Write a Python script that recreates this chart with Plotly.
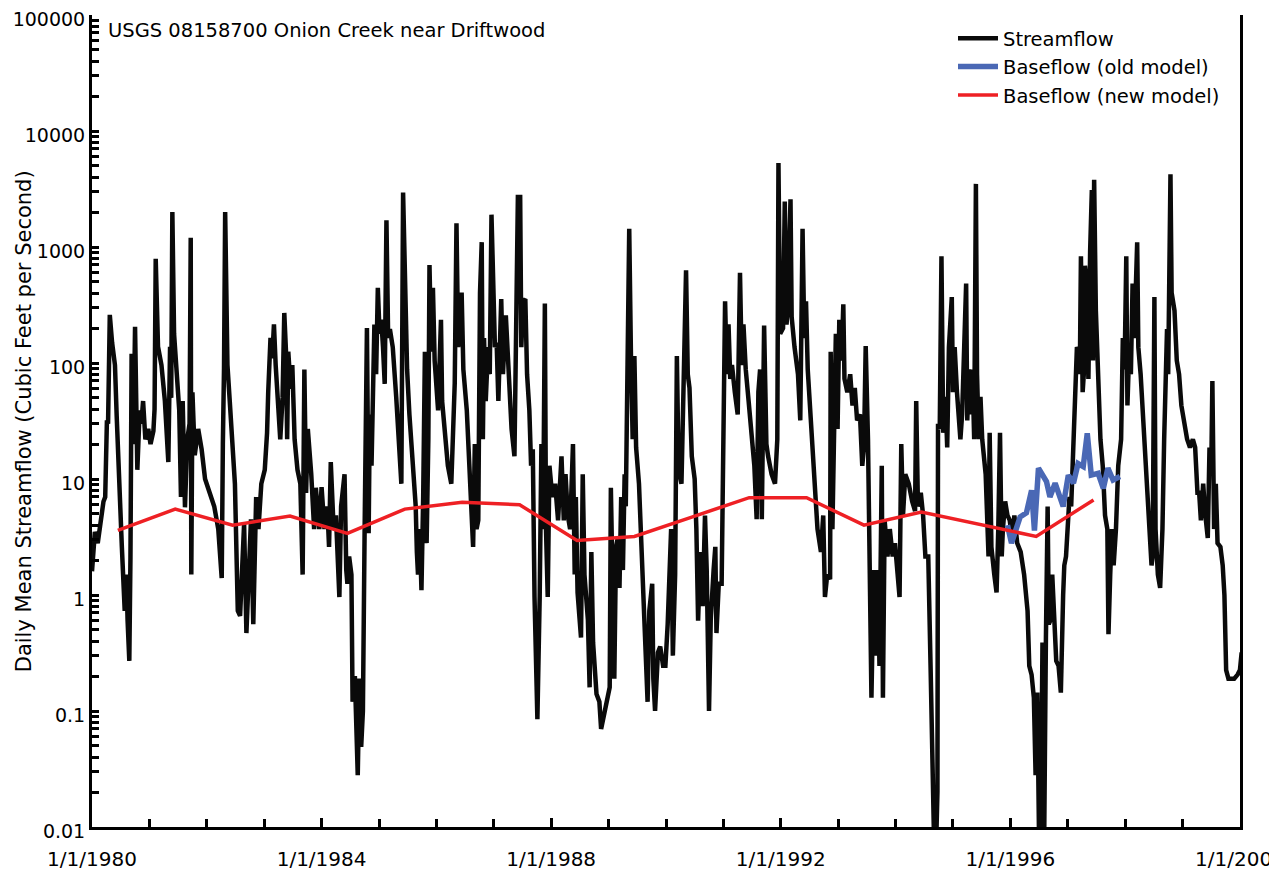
import pandas as pd
import plotly.graph_objects as go

# ---- Streamflow (decimal year, cfs) ----
flow_year = [
1980.00,1980.05,1980.10,1980.15,1980.20,1980.23,1980.26,1980.28,1980.31,1980.35,1980.40,1980.43,1980.46,1980.52,1980.57,1980.60,1980.62,1980.65,1980.67,1980.69,
1980.71,1980.73,1980.75,1980.77,1980.79,1980.83,1980.86,1980.89,1980.93,1980.98,1981.02,1981.07,1981.09,1981.11,1981.13,1981.15,1981.21,1981.27,1981.33,1981.36,
1981.38,1981.40,1981.43,1981.47,1981.52,1981.55,1981.58,1981.62,1981.66,1981.70,1981.72,1981.73,1981.75,1981.79,1981.85,1981.91,1981.97,1982.05,1982.13,1982.20,
1982.24,1982.26,1982.28,1982.30,1982.32,1982.34,1982.36,1982.40,1982.45,1982.49,1982.52,1982.54,1982.58,1982.62,1982.65,1982.69,1982.73,1982.77,1982.81,1982.86,
1982.90,1982.95,1983.01,1983.05,1983.07,1983.11,1983.14,1983.17,1983.20,1983.24,1983.28,1983.32,1983.35,1983.38,1983.40,1983.42,1983.46,1983.49,1983.53,1983.58,
1983.63,1983.67,1983.70,1983.73,1983.76,1983.82,1983.87,1983.90,1983.96,1984.00,1984.05,1984.10,1984.13,1984.16,1984.21,1984.25,1984.31,1984.34,1984.40,1984.43,
1984.45,1984.48,1984.52,1984.54,1984.58,1984.63,1984.66,1984.69,1984.72,1984.75,1984.77,1984.79,1984.82,1984.84,1984.87,1984.90,1984.92,1984.95,1984.98,1985.01,
1985.04,1985.07,1985.10,1985.13,1985.16,1985.19,1985.24,1985.30,1985.35,1985.39,1985.42,1985.46,1985.49,1985.53,1985.61,1985.64,1985.66,1985.68,1985.71,1985.74,
1985.77,1985.80,1985.83,1985.86,1985.88,1985.91,1985.94,1985.97,1986.03,1986.08,1986.10,1986.15,1986.20,1986.26,1986.29,1986.32,1986.35,1986.38,1986.44,1986.47,
1986.53,1986.58,1986.61,1986.64,1986.67,1986.70,1986.73,1986.76,1986.79,1986.81,1986.83,1986.86,1986.90,1986.93,1986.96,1986.99,1987.02,1987.05,1987.08,1987.13,
1987.16,1987.21,1987.25,1987.31,1987.36,1987.39,1987.42,1987.46,1987.48,1987.51,1987.55,1987.58,1987.62,1987.65,1987.68,1987.71,1987.76,1987.80,1987.83,1987.86,
1987.89,1987.91,1987.94,1987.97,1988.02,1988.07,1988.12,1988.18,1988.22,1988.25,1988.29,1988.33,1988.38,1988.41,1988.43,1988.46,1988.52,1988.55,1988.58,1988.64,
1988.67,1988.70,1988.73,1988.79,1988.84,1988.87,1988.93,1989.02,1989.04,1989.07,1989.10,1989.13,1989.16,1989.19,1989.22,1989.25,1989.28,1989.30,1989.33,1989.36,
1989.39,1989.42,1989.45,1989.48,1989.53,1989.59,1989.65,1989.68,1989.71,1989.76,1989.78,1989.81,1989.86,1989.90,1989.95,1989.99,1990.03,1990.06,1990.09,1990.12,
1990.16,1990.19,1990.22,1990.27,1990.31,1990.35,1990.38,1990.41,1990.45,1990.50,1990.53,1990.56,1990.60,1990.64,1990.68,1990.71,1990.75,1990.78,1990.83,1990.86,
1990.88,1990.92,1990.97,1991.00,1991.03,1991.06,1991.09,1991.12,1991.15,1991.20,1991.25,1991.29,1991.32,1991.35,1991.39,1991.44,1991.49,1991.54,1991.58,1991.61,
1991.64,1991.67,1991.71,1991.75,1991.78,1991.84,1991.90,1991.94,1991.96,1991.99,1992.04,1992.07,1992.10,1992.12,1992.17,1992.19,1992.24,1992.30,1992.34,1992.38,
1992.41,1992.44,1992.47,1992.53,1992.59,1992.64,1992.70,1992.74,1992.77,1992.81,1992.86,1992.87,1992.90,1992.93,1992.96,1992.99,1993.02,1993.06,1993.09,1993.11,
1993.16,1993.21,1993.25,1993.29,1993.33,1993.38,1993.42,1993.45,1993.48,1993.52,1993.55,1993.58,1993.62,1993.65,1993.69,1993.72,1993.76,1993.78,1993.81,1993.86,
1993.90,1993.95,1993.99,1994.03,1994.07,1994.10,1994.13,1994.17,1994.23,1994.29,1994.34,1994.36,1994.39,1994.44,1994.48,1994.52,1994.57,1994.61,1994.64,1994.67,
1994.71,1994.73,1994.74,1994.77,1994.80,1994.83,1994.87,1994.90,1994.93,1994.98,1995.00,1995.03,1995.07,1995.13,1995.16,1995.19,1995.23,1995.25,1995.28,1995.31,
1995.34,1995.37,1995.40,1995.42,1995.45,1995.48,1995.51,1995.57,1995.62,1995.64,1995.67,1995.72,1995.76,1995.79,1995.82,1995.85,1995.87,1995.91,1995.95,1995.99,
1996.03,1996.07,1996.12,1996.18,1996.24,1996.30,1996.33,1996.37,1996.41,1996.44,1996.47,1996.50,1996.53,1996.56,1996.59,1996.62,1996.65,1996.67,1996.70,1996.73,
1996.76,1996.80,1996.84,1996.88,1996.92,1996.94,1996.97,1997.00,1997.03,1997.06,1997.10,1997.13,1997.16,1997.19,1997.21,1997.23,1997.26,1997.28,1997.30,1997.33,
1997.36,1997.39,1997.42,1997.44,1997.46,1997.49,1997.53,1997.57,1997.61,1997.65,1997.69,1997.71,1997.74,1997.77,1997.80,1997.84,1997.88,1997.93,1997.96,1997.99,
1998.02,1998.04,1998.07,1998.10,1998.13,1998.16,1998.21,1998.23,1998.27,1998.32,1998.36,1998.41,1998.46,1998.48,1998.51,1998.53,1998.57,1998.61,1998.65,1998.68,
1998.73,1998.75,1998.79,1998.81,1998.86,1998.90,1998.94,1998.98,1999.03,1999.08,1999.13,1999.18,1999.22,1999.26,1999.29,1999.32,1999.36,1999.39,1999.44,1999.47,
1999.50,1999.52,1999.55,1999.58,1999.61,1999.66,1999.70,1999.73,1999.76,1999.80,1999.84,1999.90,1999.96,2000.00,2000.03,2000.06,2000.10]

flow_cfs = [
1.6,3.5,2.8,4.4,6.4,7.0,32,30,260,150,96,35,13,2.6,0.73,1.5,0.6,0.27,2.1,120,
20,40,205,25,12,39,30,47,22,27,20,26,40,790,200,138,96,47,14,138,
50,2000,178,79,39,7,47,5.7,22,30,1200,1.5,56,16,27,18,10,7.6,5.8,3.7,
2.0,1.4,20,90,2000,300,96,47,15,9.1,2,0.73,0.66,2.2,4.1,0.47,1.8,4.5,0.56,7,
3.7,9.1,12,25,56,165,110,215,96,47,22,50,270,125,22,125,60,96,22,12,
9.1,1.5,88,7.6,27,11,3.7,8.4,3.7,8.5,3.7,5.8,2.6,14,3.7,4.85,0.96,5.8,11,1.64,
1.25,2.15,1.5,0.12,0.2,0.028,0.19,0.049,0.1,3.7,56,200,3.4,36,13,56,215,80,445,179,
236,137,66,1700,164,196,137,51,22,9.1,2950,283,88,36,11,5.8,2.35,1.5,3.7,1.1,
7,125,2.8,22,700,125,445,105,39,236,47,22,13,9.1,22,67,1600,137,405,88,
39,11,5.5,2.6,20,3.7,4.4,400,1100,22,164,47,137,80,1900,283,137,150,47,355,
80,258,96,27,15.7,630,2700,2700,137,340,355,80,39,13,18,0.96,0.085,0.96,20,3.7,
325,3.7,0.96,13,7.0,9.1,4.4,15.7,4.4,11,4.85,3.7,20,1.5,7,1.05,0.43,11,1.5,0.61,
0.16,2.35,0.39,0.14,0.12,0.07,0.1,0.16,8.4,1.5,0.19,2.6,3.1,1.15,7,1.64,11,5.8,56,1435,
115,22,115,18.7,9.1,1.5,0.39,0.12,0.73,1.25,0.19,0.1,0.32,0.36,0.245,0.245,0.56,1.5,3.7,0.3,
1.5,115,12,9.1,105,630,80,61,15.7,10,3.7,0.6,2.35,0.8,4.85,1.64,0.1,0.61,1.64,2.6,
0.47,1.25,1.25,11,340,80,215,73,96,56,36,600,96,215,88,47,27,13,4.5,56,
88,4.5,210,20,15.7,11,9.1,22,5300,179,200,2460,215,283,2580,250,137,80,32,1435,
164,340,88,27,9.1,3.7,2.35,4.85,0.96,1.5,1.37,125,3.7,32,179,27,236,105,320,73,
56,80,43,61,32,36,13,18.7,140,22,1.5,0.13,1.64,0.3,1.64,0.245,13,0.13,4.4,2.15,
3.7,2.15,2.8,1.5,0.96,20,4.85,11,9.1,6.4,5.3,47,5.8,7.6,4.85,2.15,2.15,0.245,0.026,0.008,
0.008,0.02,30,27,830,25,51,18.7,137,370,56,137,56,22,36,88,485,32,88,36,
88,22,3500,80,22,51,22,11,2.15,25,2.6,1.5,1.05,3.7,25,2.15,3.7,6.4,4.85,4.4,
3.1,4.85,2.8,2.35,1.5,0.73,0.245,0.206,0.13,0.028,0.144,0.008,0.008,0.39,0.008,0.43,5.8,0.56,0.61,1.5,
0.61,0.27,0.245,0.144,1.0,1.8,2.15,4.85,7.0,5.8,22,60,137,125,80,830,56,80,690,500,
73,910,3100,105,3800,283,56,22,13,4.85,3.7,0.46,1.5,3.7,1.8,3.7,13,22,164,88,
830,43,125,80,485,164,1100,137,80,32,11,4.85,1.8,2.15,370,3.7,1.5,1.15,3.7,22,
196,80,4240,405,283,105,80,43,32,22,18.7,22,18.7,7.6,7.6,4.4,9.1,5.3,3.1,18.7,
11,70,3.7,9.1,2.8,2.6,1.8,1.0,0.225,0.19,0.19,0.19,0.206,0.225,0.32,0.245,0.245]

# ---- Baseflow, old model ----
old_year = [1995.95,1996.02,1996.17,1996.28,1996.37,1996.42,1996.49,1996.63,1996.69,1996.78,1996.92,
            1997.01,1997.10,1997.18,1997.27,1997.34,1997.41,1997.53,1997.62,1997.70,1997.79,1997.91]
old_cfs = [4.0,2.8,4.7,5.1,8.0,3.6,12.4,9.5,7.0,9.2,5.8,10.8,9.2,13.6,12.8,24.8,10.8,11.2,8.3,12.4,9.8,10.5]

# ---- Baseflow, new model (annual) ----
new_year = [1980.45,1981.45,1982.45,1983.45,1984.45,1985.45,1986.45,1987.45,1988.45,
            1989.45,1990.45,1991.45,1992.45,1993.45,1994.45,1995.45,1996.45,1997.45]
new_cfs = [3.6,5.5,4.0,4.8,3.4,5.5,6.3,6.0,2.95,3.2,4.7,6.9,6.9,4.0,5.2,4.1,3.2,6.6]

y_tickvals = [0.01, 0.1, 1, 10, 100, 1000, 10000, 100000]
y_ticktext = ["0.01", "0.1", "1", "10", "100", "1000", "10000", "100000"]
x_tickvals = ["1980-01-01", "1984-01-01", "1988-01-01", "1992-01-01", "1996-01-01", "2000-01-01"]
x_ticktext = ["1/1/1980", "1/1/1984", "1/1/1988", "1/1/1992", "1/1/1996", "1/1/2000"]


def to_dates(years):
    base = pd.Timestamp("1980-01-01")
    return [base + pd.to_timedelta((y - 1980) * 365.25, unit="D") for y in years]


FONT = "DejaVu Sans"

fig = go.Figure()
fig.add_trace(go.Scatter(x=to_dates(flow_year), y=flow_cfs, mode="lines", name="Streamflow",
                         line=dict(color="#0a0a0a", width=4.5)))
fig.add_trace(go.Scatter(x=to_dates(old_year), y=old_cfs, mode="lines", name="Baseflow (old model)",
                         line=dict(color="#4a68b5", width=5.5)))
fig.add_trace(go.Scatter(x=to_dates(new_year), y=new_cfs, mode="lines", name="Baseflow (new model)",
                         line=dict(color="#ee2024", width=3.5)))

fig.update_layout(
    width=1269, height=866,
    margin=dict(l=84, r=37, t=7, b=47),
    paper_bgcolor="white", plot_bgcolor="white",
    font=dict(family=FONT, color="black", size=17),
    showlegend=True,
    legend=dict(x=0.750, y=0.995, xanchor="left", yanchor="top",
                bgcolor="rgba(0,0,0,0)", font=dict(size=19.5, family=FONT),
                tracegroupgap=0, itemwidth=40),
    annotations=[
        dict(text="USGS 08158700 Onion Creek near Driftwood", xref="paper", yref="paper",
             x=0.012, y=0.998, xanchor="left", yanchor="top", showarrow=False,
             font=dict(size=19.5, family=FONT)),
        dict(text="Daily Mean Streamflow (Cubic Feet per Second)", xref="paper", yref="paper",
             x=-0.059, y=0.5, xanchor="center", yanchor="middle", textangle=-90, showarrow=False,
             font=dict(size=21, family=FONT)),
    ],
)

fig.update_xaxes(
    type="date", range=["1980-01-01", "2000-01-01 12:00"],
    tickvals=x_tickvals, ticktext=x_ticktext, automargin=False, ticklabeloverflow="allow",
    ticks="inside", ticklen=9, tickwidth=3, tickcolor="black",
    showline=True, linecolor="black", linewidth=3,
    showgrid=False, zeroline=False,
    tickfont=dict(size=20, family=FONT), ticklabelstandoff=12,
    minor=dict(dtick="M12", ticks="inside", ticklen=8, tickwidth=3, tickcolor="black", showgrid=False),
)
fig.update_yaxes(
    type="log", range=[-2, 5], automargin=False, ticklabeloverflow="allow", ticklabelshift=4,
    tickvals=y_tickvals, ticktext=y_ticktext,
    ticks="inside", ticklen=7, tickwidth=3, tickcolor="black",
    showline=True, linecolor="black", linewidth=3, mirror=True,
    showgrid=False, zeroline=False,
    tickfont=dict(size=19, family=FONT),
    minor=dict(dtick="D1", ticks="inside", ticklen=7, tickwidth=3, tickcolor="black", showgrid=False),
)

fig.write_html("out.html")
